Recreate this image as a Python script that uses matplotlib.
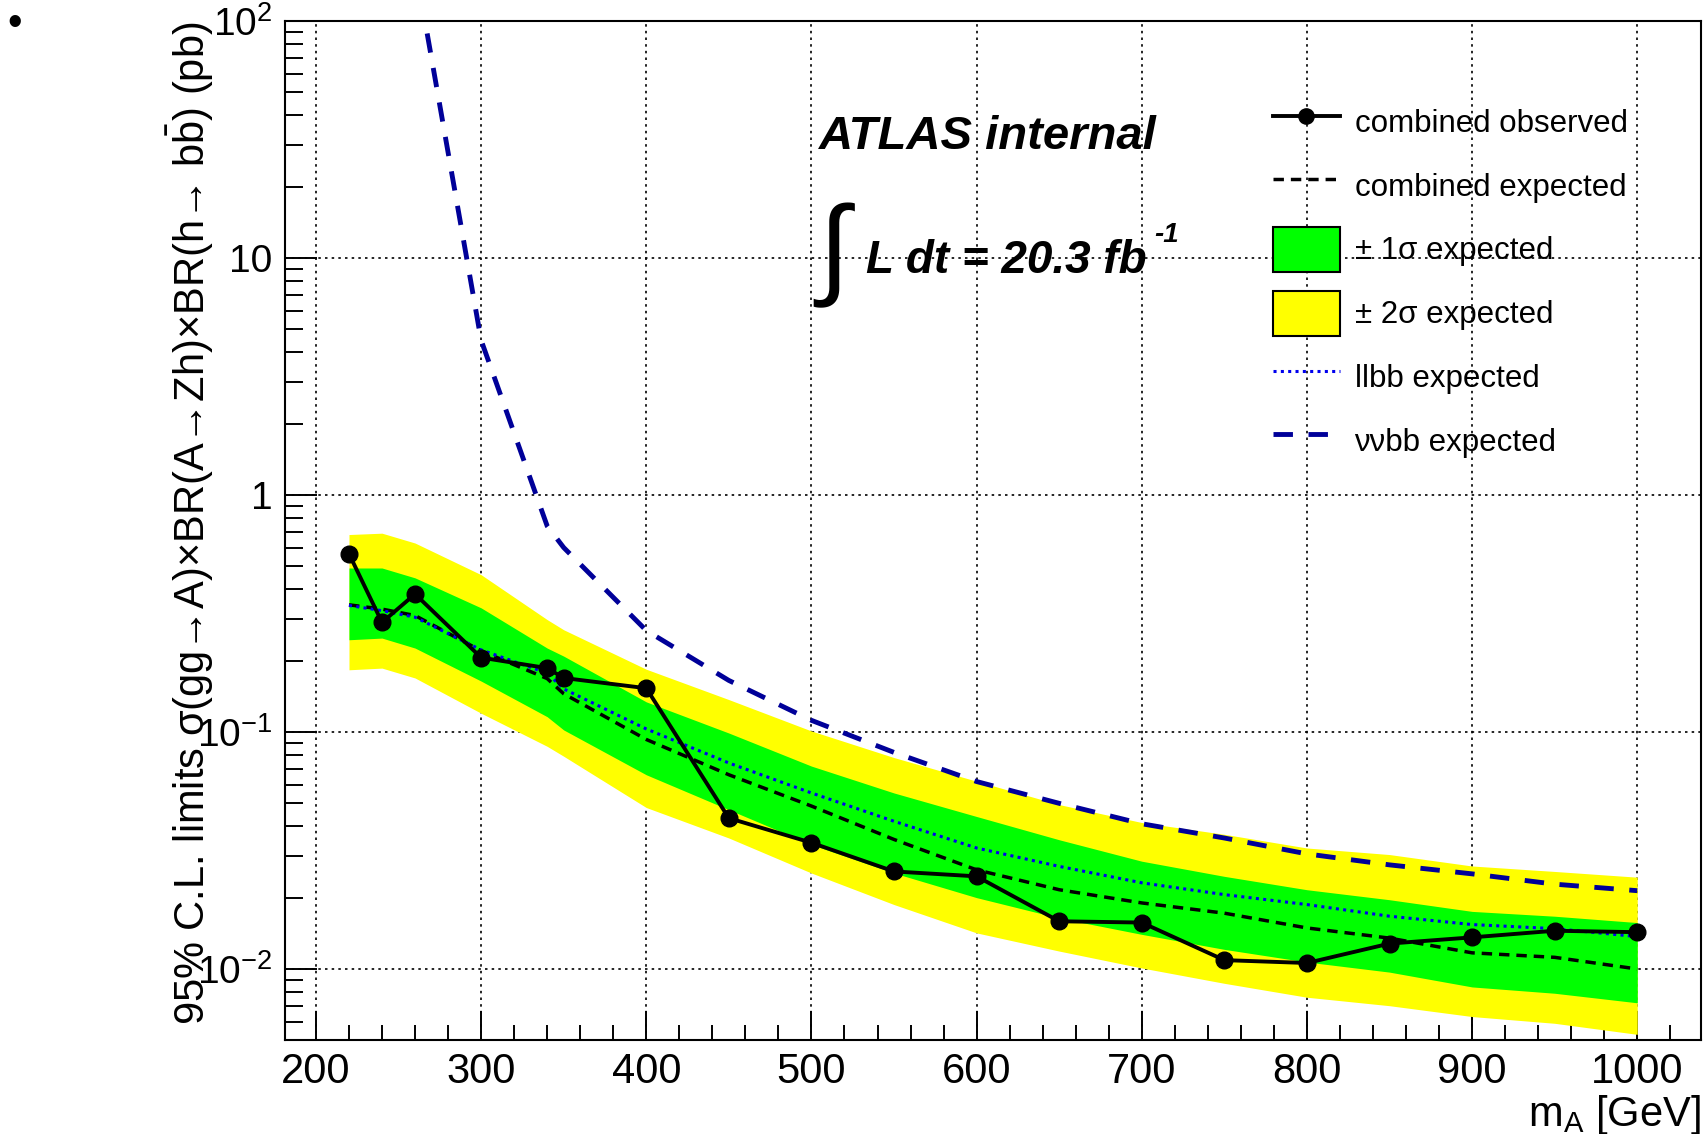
import numpy as np
import matplotlib
matplotlib.use("Agg")
import matplotlib.pyplot as plt
from matplotlib.lines import Line2D
from matplotlib.patches import Patch
from matplotlib.ticker import FixedLocator, FixedFormatter, LogLocator, MultipleLocator, NullFormatter

# mass points (GeV)
mass = [220, 240, 260, 300, 340, 350, 400, 450, 500, 550, 600, 650, 700, 750, 800, 850, 900, 950, 1000]

# limits in pb
observed = [0.565, 0.29, 0.382, 0.206, 0.186, 0.169, 0.153, 0.0433, 0.0341, 0.0258, 0.0246, 0.0159,
            0.0157, 0.0109, 0.0106, 0.0128, 0.0136, 0.0145, 0.0143]
expected = [0.344, 0.33, 0.31, 0.22, 0.168, 0.145, 0.093, 0.066, 0.0487, 0.0352, 0.0262, 0.0216,
            0.019, 0.0172, 0.0149, 0.0135, 0.0117, 0.0112, 0.0100]
llbb_exp = [0.342, 0.325, 0.305, 0.222, 0.177, 0.152, 0.103, 0.074, 0.0553, 0.042, 0.0324, 0.0271,
            0.0231, 0.0206, 0.0187, 0.0167, 0.0154, 0.0148, 0.0137]
vvbb_exp = [np.nan, np.nan, 173, 4.5, 0.74, 0.60, 0.268, 0.165, 0.112, 0.082, 0.0618, 0.050,
            0.041, 0.0357, 0.0306, 0.0275, 0.0252, 0.0228, 0.0214]

# expected bands
minus2 = [0.183, 0.186, 0.169, 0.120, 0.087, 0.079, 0.048, 0.0357, 0.0254, 0.0187, 0.0142, 0.0119,
          0.0101, 0.0087, 0.0076, 0.0070, 0.0063, 0.0059, 0.0053]
minus1 = [0.245, 0.249, 0.226, 0.164, 0.116, 0.102, 0.066, 0.047, 0.0335, 0.0254, 0.0200, 0.0164,
          0.0140, 0.0121, 0.0107, 0.0097, 0.0084, 0.0079, 0.0072]
plus1 = [0.492, 0.492, 0.447, 0.334, 0.226, 0.209, 0.134, 0.099, 0.0718, 0.0553, 0.044, 0.0351,
         0.0285, 0.0246, 0.0216, 0.0196, 0.0175, 0.0167, 0.0157]
plus2 = [0.681, 0.69, 0.627, 0.461, 0.298, 0.270, 0.184, 0.137, 0.101, 0.078, 0.062, 0.0494,
         0.0415, 0.037, 0.0324, 0.0304, 0.0272, 0.0258, 0.0244]

ytick_vals = [0.01, 0.1, 1, 10, 100]
ytick_labels = [r'$10^{-2}$', r'$10^{-1}$', '1', '10', r'$10^{2}$']

plt.rcParams['font.family'] = ['Liberation Sans', 'DejaVu Sans']
plt.rcParams['mathtext.fontset'] = 'custom'
plt.rcParams['mathtext.rm'] = 'Liberation Sans'
plt.rcParams['mathtext.it'] = 'Liberation Sans:italic'
plt.rcParams['mathtext.bf'] = 'Liberation Sans:bold'

fig = plt.figure(figsize=(17.08, 11.34), dpi=100)
ax = fig.add_axes([0.1669, 0.0829, 0.829, 0.8986])

ax.fill_between(mass, minus2, plus2, color='#ffff00', lw=0, zorder=2)
ax.fill_between(mass, minus1, plus1, color='#00ff00', lw=0, zorder=2)
ax.plot(mass, expected, color='k', lw=2.5, dashes=(3, 2), zorder=3)
ax.plot(mass, llbb_exp, color='#0000ee', lw=2.2, dashes=(1, 1.4), zorder=4)
ax.plot(mass, vvbb_exp, color='#000099', lw=3.5, dashes=(4, 3.2), zorder=4)
ax.plot(mass, observed, color='k', lw=2.8, marker='o', ms=12, zorder=5)

ax.set_yscale('log')
ax.set_xlim(181.3, 1038.6)
ax.set_ylim(0.005017, 100)

ax.xaxis.set_major_locator(MultipleLocator(100))
ax.xaxis.set_minor_locator(MultipleLocator(20))
ax.yaxis.set_major_locator(FixedLocator(ytick_vals))
ax.yaxis.set_major_formatter(FixedFormatter(ytick_labels))
ax.yaxis.set_minor_locator(LogLocator(base=10, subs=np.arange(2, 10)))
ax.yaxis.set_minor_formatter(NullFormatter())

ax.tick_params(axis='x', which='major', direction='in', length=21, width=1.4, labelsize=30, pad=9,
               top=False)
ax.tick_params(axis='x', which='minor', direction='in', length=11, width=1.4, top=False)
ax.tick_params(axis='y', which='major', direction='in', length=23, width=1.4, labelsize=28, pad=9,
               right=False)
ax.tick_params(axis='y', which='minor', direction='in', length=13, width=1.4, right=False)

for s in ax.spines.values():
    s.set_linewidth(1.5)

ax.set_axisbelow(True)
ax.grid(True, which='major', color='k', lw=1.2, linestyle=(0, (1.5, 2.5)))

ax.set_ylabel(r'95% C.L. limits σ(gg→A)×BR(A→Zh)×BR(h→ $\mathrm{b\bar{b}}$) (pb)', fontsize=30,
              loc='top')
ax.yaxis.set_label_coords(-0.049, 1.0)
ax.set_xlabel(r'm$_{\mathrm{A}}$ [GeV]', fontsize=30, loc='right')
ax.xaxis.set_label_coords(1.0, -0.052)

handles = [
    Line2D([], [], color='k', lw=2.8, marker='o', ms=11),
    Line2D([], [], color='k', lw=2.5, dashes=(3, 2)),
    Patch(facecolor='#00ff00', edgecolor='k', lw=1.5),
    Patch(facecolor='#ffff00', edgecolor='k', lw=1.5),
    Line2D([], [], color='#0000ee', lw=2.2, dashes=(1, 1.4)),
    Line2D([], [], color='#000099', lw=3.5, dashes=(4, 3.2)),
]
labels = ['combined observed', 'combined expected', '± 1σ expected', '± 2σ expected',
          'llbb expected', 'ννbb expected']
ax.legend(handles, labels, loc='upper left', bbox_to_anchor=(0.7451, 0.9125),
          bbox_transform=fig.transFigure, frameon=False, fontsize=22.5, handlelength=2.15,
          handleheight=1.84, handletextpad=0.47, labelspacing=0.6, borderpad=0, borderaxespad=0)

fig.text(819 / 1708, 1 - 149 / 1134, 'ATLAS internal', fontsize=34, fontweight='bold',
         fontstyle='italic', va='baseline')
fig.text(834 / 1708, 1 - 255 / 1134, '∫', fontsize=80, family='Liberation Sans', ha='center',
         va='center')
fig.text(866 / 1708, 1 - 273 / 1134, 'L dt = 20.3 fb', fontsize=33, fontweight='bold',
         fontstyle='italic', va='baseline')
fig.text(1154 / 1708, 1 - 242 / 1134, '-1', fontsize=20, fontweight='bold', fontstyle='italic',
         va='baseline')

fig.text(15 / 1708, 1 - 24 / 1134, '•', fontsize=30, ha='center', va='center')

fig.savefig('out.png', dpi=100)
